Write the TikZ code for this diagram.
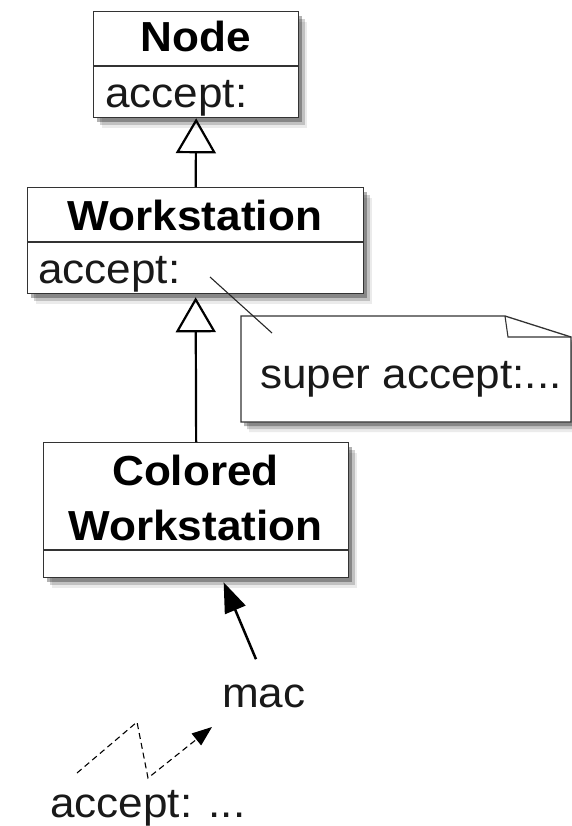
\documentclass[tikz,border=0pt]{standalone}
\usepackage{fontspec}
\setmainfont{Liberation Sans}[FakeStretch=1.05]
\usetikzlibrary{shadows,arrows.meta,calc}
\begin{document}
\begin{tikzpicture}[x=1pt,y=-1pt,
  shade2/.style={drop shadow={shadow xshift=3pt, shadow yshift=-4pt, fill=black, opacity=0.3},
                 drop shadow={shadow xshift=6pt, shadow yshift=-7pt, fill=black, opacity=0.18},
                 drop shadow={shadow xshift=8pt, shadow yshift=-10pt, fill=black, opacity=0.08}},
  umlbox/.style={draw=black!80, line width=1.3pt, fill=white, inner sep=0pt, anchor=north west, shade2},
  divider/.style={draw=black!80, line width=1.3pt},
  lbl/.style={font=\fontsize{42}{48}\selectfont, inner sep=0pt, anchor=base west, text=black!90},
  ttl/.style={font=\bfseries\fontsize{42}{55}\selectfont, inner sep=0pt, anchor=base, align=center},
  inherit/.style={line width=2.2pt, -{Triangle[open, length=35pt, width=40pt, line width=2.2pt]}},
  assoc/.style={line width=2.5pt, -{Triangle[length=30pt, width=22pt]}},
  msg/.style={line width=1.1pt, dash pattern=on 6pt off 4pt, -{Triangle[length=20pt, width=15pt]}},
  notelink/.style={line width=1.1pt, draw=black!85},
]
\useasboundingbox (0,0) rectangle (572,826);

% Node class
\node[umlbox, minimum width=205pt, minimum height=106pt] (nodecls) at (93,11) {};
\draw[divider] ([yshift=-55pt]nodecls.north west) -- ([yshift=-55pt]nodecls.north east);
\node[ttl] (nodettl) at (195.5,52) {Node};
\node[lbl] (nodeop) at (105,108) {accept:};

% Workstation class
\node[umlbox, minimum width=336pt, minimum height=106pt] (workcls) at (27,187) {};
\draw[divider] ([yshift=-55pt]workcls.north west) -- ([yshift=-55pt]workcls.north east);
\node[ttl] (workttl) at (195,230) {Workstation};
\node[lbl] (workop) at (38,283) {accept:};

% Note
\filldraw[draw=black!80, line width=1.3pt, fill=white, shade2]
  (241,316) -- (505,316) -- (571,337) -- (571,422) -- (241,422) -- cycle;
\draw[divider, line width=1.1pt] (505,316) -- (508,337) -- (571,337);
\node[lbl] (notetext) at (260,388) {super accept:...};

% Colored Workstation class
\node[umlbox, minimum width=305pt, minimum height=135pt] (colcls) at (43,442) {};
\draw[divider] ([yshift=-108pt]colcls.north west) -- ([yshift=-108pt]colcls.north east);
\node[ttl] (colttl) at (195.5,540) {Colored\\Workstation};

% inheritance
\draw[inherit] (workcls.north) -- (nodecls.south);
\draw[inherit] (colcls.north) -- ([yshift=-3pt]workcls.south);

% note link
\coordinate (linkstart) at (210,277);
\coordinate (linkend) at (272,333);
\draw[notelink] (linkstart) -- (linkend);

% mac object
\node[lbl] (mac) at (222,707) {mac};
\draw[assoc] ([shift={(34pt,25pt)}]mac.north west) -- ([shift={(27.5pt,-4pt)}]colcls.south);

% message
\node[lbl] (msgtext) at (50,817) {accept: ...};
\coordinate (d1) at (77,773);
\coordinate (d2) at (137,722);
\coordinate (d3) at (148,778);
\coordinate (d4) at (212,727);
\draw[msg] (d1) -- (d2) -- (d3) -- (d4);
\end{tikzpicture}
\end{document}
